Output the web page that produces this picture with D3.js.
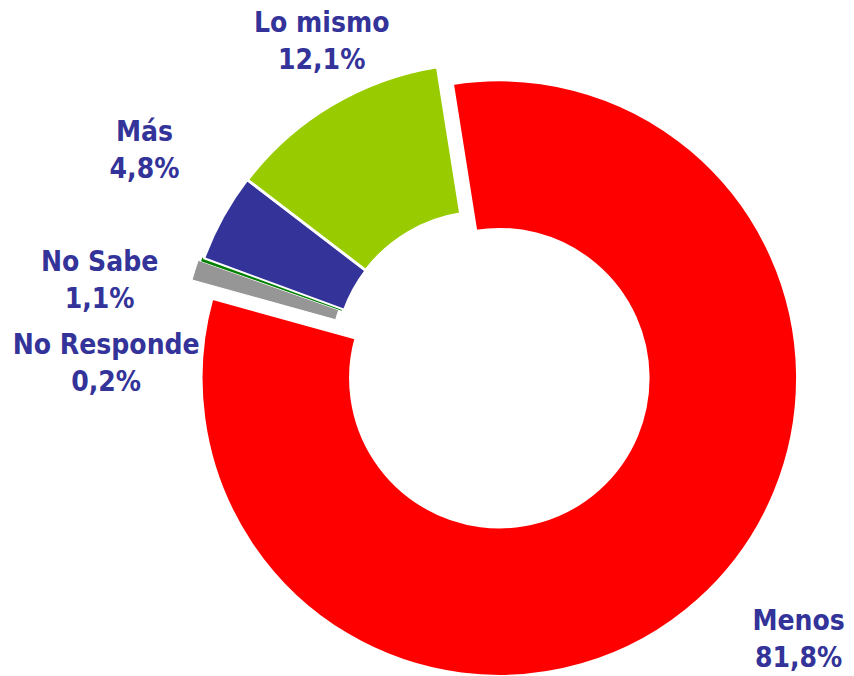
<!DOCTYPE html>
<html>
<head>
<meta charset="utf-8">
<script src="https://cdn.jsdelivr.net/npm/d3@7"></script>
<style>
  html, body { margin: 0; padding: 0; background: #fff; }
  #chart { width: 854px; height: 676px; }
  .lbl { font-family: "DejaVu Sans Condensed", "DejaVu Sans", sans-serif; font-stretch: condensed; font-weight: bold; font-size: 28px; fill: #333399; }
</style>
</head>
<body>
<div id="chart"><svg></svg></div>
<script>
// data, clockwise from the top
var categories = ["Menos", "No Sabe", "No Responde", "Más", "Lo mismo"];
var values = [81.8, 1.1, 0.2, 4.8, 12.1];
var valueLabels = ["81,8%", "1,1%", "0,2%", "4,8%", "12,1%"];
var colors = ["#ff0000", "#969696", "#008000", "#333399", "#99cc00"];

var chartWidth = 854,
    chartHeight = 676;

var svg = d3.select("#chart svg")
    .attr("width", chartWidth)
    .attr("height", chartHeight);

var cx = 484, cy = 361,
    outerR = 298, innerR = 149;

var deg = Math.PI / 180;

// exploded slices (px), border widths and label placement (radius, angle nudge in degrees)
var explode = { "Menos": 23, "No Sabe": 5, "No Responde": 2 };
var border = { "Menos": 2.5, "No Sabe": 1, "No Responde": 0, "Más": 2, "Lo mismo": 3 };
var labelLayout = {
    "Menos": { r: 426, da: -5.85 },
    "No Sabe": { r: 391, da: -6.9 },
    "No Responde": { r: 378, da: -21.5 },
    "Más": { r: 395, da: 1.95 },
    "Lo mismo": { r: 350, da: 3.15 }
};

var slices = categories.map(function(c, i) {
    return { name: c, value: values[i], label: valueLabels[i], color: colors[i] };
});

var pie = d3.pie()
    .sort(null)
    .value(function(d) { return d.value; })
    .startAngle(-9 * deg)
    .endAngle(351 * deg);

var arc = d3.arc()
    .innerRadius(innerR)
    .outerRadius(outerR);

var arcs = pie(slices);

var g = svg.append("g")
    .attr("transform", "translate(" + cx + "," + cy + ")");

g.selectAll("path")
    .data(arcs)
    .enter()
    .append("path")
    .attr("d", arc)
    .attr("fill", function(d) { return d.data.color; })
    .attr("stroke", "#fff")
    .attr("stroke-width", function(d) { return border[d.data.name]; })
    .attr("transform", function(d) {
        var off = explode[d.data.name] || 0;
        var a = (d.startAngle + d.endAngle) / 2;
        return "translate(" + (off * Math.sin(a)) + "," + (-off * Math.cos(a)) + ")";
    });

var labels = g.selectAll(".lbl-g")
    .data(arcs)
    .enter()
    .append("g")
    .attr("class", "lbl-g")
    .attr("transform", function(d) {
        var lay = labelLayout[d.data.name];
        var a = (d.startAngle + d.endAngle) / 2 + lay.da * deg;
        return "translate(" + (lay.r * Math.sin(a)) + "," + (-lay.r * Math.cos(a)) + ")";
    });

labels.append("text")
    .attr("class", "lbl")
    .attr("text-anchor", "middle")
    .attr("y", -18.5)
    .text(function(d) { return d.data.name; });

labels.append("text")
    .attr("class", "lbl")
    .attr("text-anchor", "middle")
    .attr("y", 18.5)
    .text(function(d) { return d.data.label; });
</script>
</body>
</html>
